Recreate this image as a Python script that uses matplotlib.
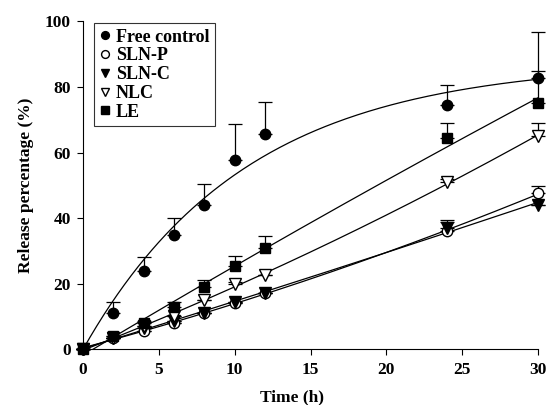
import numpy as np
import matplotlib
matplotlib.use("Agg")
import matplotlib.pyplot as plt

plt.rcParams['font.family'] = ['Liberation Serif', 'DejaVu Serif']
plt.rcParams['font.weight'] = 'bold'

# datos
tiempo = [0, 2, 4, 6, 8, 10, 12, 24, 30]

free_y = [0, 11, 23.8, 34.8, 44, 57.7, 65.6, 74.5, 82.8]
free_top = [0, 14.3, 28, 40, 50.4, 68.7, 75.4, 80.6, 96.8]

slnp_y = [0, 3.5, 5.5, 8, 11, 14, 17, 36, 47.5]
slnp_top = [0, 3.5, 5.5, 8, 11, 14, 17, 39.4, 49.8]

slnc_y = [0, 3.5, 6.5, 8.5, 11, 14.5, 17, 37, 44]
slnc_top = [0, 3.5, 6.5, 8.5, 11, 14.5, 17, 38.8, 44]

nlc_y = [0, 3.5, 7, 10, 15, 20, 22.5, 51, 65]
nlc_top = [0, 3.5, 7, 10, 15, 20.5, 22.5, 52, 69]

le_y = [0, 4, 8, 13, 19, 25.5, 31, 64.5, 75]
le_top = [0, 4, 8.5, 14.5, 21, 28.5, 34.5, 69, 85]

series = [
    ("Free control", free_y, free_top, 'o', 'black'),
    ("SLN-P", slnp_y, slnp_top, 'o', 'white'),
    ("SLN-C", slnc_y, slnc_top, 'v', 'black'),
    ("NLC", nlc_y, nlc_top, 'v', 'white'),
    ("LE", le_y, le_top, 's', 'black'),
]


def ajuste_primer_orden(t, y, tt):
    # y = a*(1-exp(-k t)), busca k en una rejilla
    mejor = None
    for k in np.linspace(0.005, 0.5, 500):
        base = 1 - np.exp(-k * t)
        a = np.dot(base, y) / np.dot(base, base)
        res = np.sum((y - a * base) ** 2)
        if mejor is None or res < mejor[0]:
            mejor = (res, a, k)
    return mejor[1] * (1 - np.exp(-mejor[2] * tt))


fig = plt.figure(figsize=(5.47, 4.05), dpi=100)
ax = fig.add_axes([0.152, 0.138, 0.8315, 0.809])

t = np.array(tiempo, dtype=float)
tt = np.linspace(0, 30, 200)
for i, (nombre, y, top, marcador, relleno) in enumerate(series):
    y = np.array(y)
    err = np.array(top) - y
    if i == 0:
        curva = ajuste_primer_orden(t, y, tt)
    else:
        coef = np.polyfit(t, y, 2)
        curva = np.polyval(coef, tt)
    ax.plot(tt, curva, color='black', lw=0.9, zorder=2)
    ax.errorbar(t, y, yerr=[np.zeros_like(err), err], fmt='none', ecolor='black',
                elinewidth=0.9, capsize=5, capthick=0.9, zorder=3, clip_on=False)
    ax.plot(t, y, marcador, markerfacecolor=relleno, markeredgecolor='black',
            markersize=7.5 if marcador != 'v' else 8, mew=1, ls='none',
            label=nombre, zorder=4, clip_on=False)

ax.set_xlim(0, 30)
ax.set_ylim(0, 100)
ax.set_xticks(range(0, 31, 5))
ax.set_yticks(range(0, 101, 20))
ax.spines['top'].set_visible(False)
ax.spines['right'].set_visible(False)
ax.tick_params(direction='out', length=4, width=0.8, labelsize=12.5, pad=5)
for lab in ax.get_xticklabels() + ax.get_yticklabels():
    lab.set_fontweight('bold')
ax.set_xlabel('Time (h)', fontsize=12.5, fontweight='bold')
ax.xaxis.set_label_coords(0.46, -0.122)
ax.set_ylabel('Release percentage (%)', fontsize=12.5, fontweight='bold', labelpad=8)

leg = ax.legend(loc='upper left', bbox_to_anchor=(0.024, 0.995), borderaxespad=0,
                frameon=True, fancybox=False, markerscale=0.75,
                edgecolor='black', handlelength=0.6, handletextpad=0.3, borderpad=0.3,
                labelspacing=0.1, prop={'weight': 'bold', 'size': 13})
leg.get_frame().set_linewidth(0.8)

fig.savefig('out.png', dpi=100)
